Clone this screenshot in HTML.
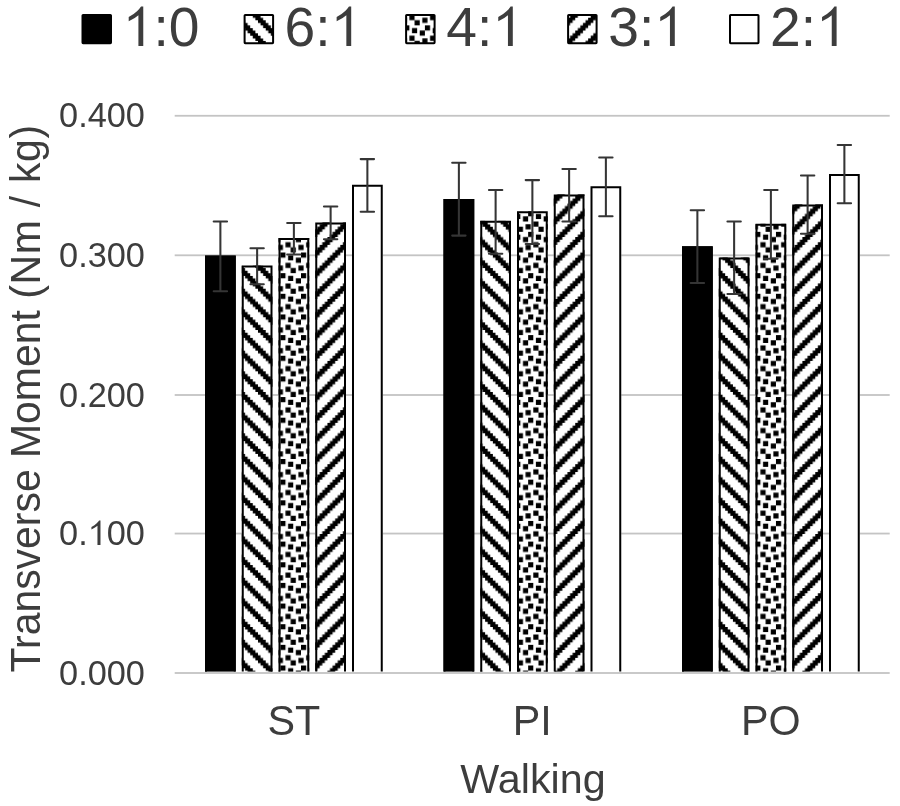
<!DOCTYPE html>
<html><head><meta charset="utf-8"><style>
html,body{margin:0;padding:0;background:#fff;}
svg{display:block;font-family:"Liberation Sans",sans-serif;will-change:transform;}
</style></head><body>
<svg width="900" height="806" viewBox="0 0 900 806">
<defs><pattern id="pDown" patternUnits="userSpaceOnUse" width="8" height="8" patternTransform="translate(10.17 -0.37) scale(2.58125)"><rect width="8" height="8" fill="#fff"/><path d="M0 0h1v1h-1zM1 0h1v1h-1zM2 0h1v1h-1zM1 1h1v1h-1zM2 1h1v1h-1zM3 1h1v1h-1zM2 2h1v1h-1zM3 2h1v1h-1zM4 2h1v1h-1zM3 3h1v1h-1zM4 3h1v1h-1zM5 3h1v1h-1zM4 4h1v1h-1zM5 4h1v1h-1zM6 4h1v1h-1zM5 5h1v1h-1zM6 5h1v1h-1zM7 5h1v1h-1zM6 6h1v1h-1zM7 6h1v1h-1zM0 6h1v1h-1zM7 7h1v1h-1zM0 7h1v1h-1zM1 7h1v1h-1z" fill="#000"/></pattern><pattern id="pUp" patternUnits="userSpaceOnUse" width="8" height="8" patternTransform="translate(17.69 9.88) scale(2.58125)"><rect width="8" height="8" fill="#fff"/><path d="M0 0h1v1h-1zM1 0h1v1h-1zM2 0h1v1h-1zM7 1h1v1h-1zM0 1h1v1h-1zM1 1h1v1h-1zM6 2h1v1h-1zM7 2h1v1h-1zM0 2h1v1h-1zM5 3h1v1h-1zM6 3h1v1h-1zM7 3h1v1h-1zM4 4h1v1h-1zM5 4h1v1h-1zM6 4h1v1h-1zM3 5h1v1h-1zM4 5h1v1h-1zM5 5h1v1h-1zM2 6h1v1h-1zM3 6h1v1h-1zM4 6h1v1h-1zM1 7h1v1h-1zM2 7h1v1h-1zM3 7h1v1h-1z" fill="#000"/></pattern><pattern id="pConf" patternUnits="userSpaceOnUse" width="8" height="8" patternTransform="translate(11.9 4.7) scale(2.58125)"><rect width="8" height="8" fill="#fff"/><path d="M0.000 0.000h2.0v2.0h-2.0zM3.000 1.000h2.0v2.0h-2.0zM6.000 2.000h2.0v2.0h-2.0zM2.000 4.000h2.0v2.0h-2.0zM-1.000 5.000h2.0v2.0h-2.0zM7.000 5.000h2.0v2.0h-2.0zM4.000 6.000h2.0v2.0h-2.0z" fill="#000"/></pattern></defs>
<rect x="174.7" y="114.87" width="715" height="1.8" fill="#c4c4c4"/>
<rect x="174.7" y="254.40" width="715" height="1.8" fill="#c4c4c4"/>
<rect x="174.7" y="394.10" width="715" height="1.8" fill="#c4c4c4"/>
<rect x="174.7" y="532.65" width="715" height="1.8" fill="#c4c4c4"/>
<rect x="205.00" y="255.60" width="30.75" height="416.00" fill="#000"/>
<path d="M206.00 671.6V256.60H234.75V671.6" fill="none" stroke="#000" stroke-width="2"/>
<rect x="241.75" y="265.50" width="30.75" height="406.10" fill="url(#pDown)"/>
<path d="M242.75 671.6V266.50H271.50V671.6" fill="none" stroke="#000" stroke-width="2"/>
<rect x="278.50" y="238.10" width="30.75" height="433.50" fill="url(#pConf)"/>
<path d="M279.50 671.6V239.10H308.25V671.6" fill="none" stroke="#000" stroke-width="2"/>
<rect x="315.25" y="222.40" width="30.75" height="449.20" fill="url(#pUp)"/>
<path d="M316.25 671.6V223.40H345.00V671.6" fill="none" stroke="#000" stroke-width="2"/>
<rect x="352.00" y="184.75" width="30.75" height="486.85" fill="#fff"/>
<path d="M353.00 671.6V185.75H381.75V671.6" fill="none" stroke="#000" stroke-width="2"/>
<rect x="443.50" y="199.00" width="30.75" height="472.60" fill="#000"/>
<path d="M444.50 671.6V200.00H473.25V671.6" fill="none" stroke="#000" stroke-width="2"/>
<rect x="480.25" y="220.85" width="30.75" height="450.75" fill="url(#pDown)"/>
<path d="M481.25 671.6V221.85H510.00V671.6" fill="none" stroke="#000" stroke-width="2"/>
<rect x="517.00" y="211.25" width="30.75" height="460.35" fill="url(#pConf)"/>
<path d="M518.00 671.6V212.25H546.75V671.6" fill="none" stroke="#000" stroke-width="2"/>
<rect x="553.75" y="194.40" width="30.75" height="477.20" fill="url(#pUp)"/>
<path d="M554.75 671.6V195.40H583.50V671.6" fill="none" stroke="#000" stroke-width="2"/>
<rect x="590.50" y="186.30" width="30.75" height="485.30" fill="#fff"/>
<path d="M591.50 671.6V187.30H620.25V671.6" fill="none" stroke="#000" stroke-width="2"/>
<rect x="682.00" y="246.30" width="30.75" height="425.30" fill="#000"/>
<path d="M683.00 671.6V247.30H711.75V671.6" fill="none" stroke="#000" stroke-width="2"/>
<rect x="718.75" y="257.40" width="30.75" height="414.20" fill="url(#pDown)"/>
<path d="M719.75 671.6V258.40H748.50V671.6" fill="none" stroke="#000" stroke-width="2"/>
<rect x="755.50" y="223.80" width="30.75" height="447.80" fill="url(#pConf)"/>
<path d="M756.50 671.6V224.80H785.25V671.6" fill="none" stroke="#000" stroke-width="2"/>
<rect x="792.25" y="204.40" width="30.75" height="467.20" fill="url(#pUp)"/>
<path d="M793.25 671.6V205.40H822.00V671.6" fill="none" stroke="#000" stroke-width="2"/>
<rect x="829.00" y="173.90" width="30.75" height="497.70" fill="#fff"/>
<path d="M830.00 671.6V174.90H858.75V671.6" fill="none" stroke="#000" stroke-width="2"/>
<rect x="174.7" y="672.10" width="715" height="1.8" fill="#c4c4c4"/>
<path d="M220.38 221.40V291.20M213.68 221.40H227.07M213.68 291.20H227.07" stroke="#353535" stroke-width="2.05" stroke-linecap="round" fill="none"/>
<path d="M257.12 248.30V284.20M250.43 248.30H263.82M250.43 284.20H263.82" stroke="#353535" stroke-width="2.05" stroke-linecap="round" fill="none"/>
<path d="M293.88 223.00V254.50M287.18 223.00H300.57M287.18 254.50H300.57" stroke="#353535" stroke-width="2.05" stroke-linecap="round" fill="none"/>
<path d="M330.62 206.40V239.20M323.93 206.40H337.32M323.93 239.20H337.32" stroke="#353535" stroke-width="2.05" stroke-linecap="round" fill="none"/>
<path d="M367.38 159.10V211.70M360.68 159.10H374.07M360.68 211.70H374.07" stroke="#353535" stroke-width="2.05" stroke-linecap="round" fill="none"/>
<path d="M458.88 162.80V235.60M452.18 162.80H465.57M452.18 235.60H465.57" stroke="#353535" stroke-width="2.05" stroke-linecap="round" fill="none"/>
<path d="M495.62 190.00V253.70M488.93 190.00H502.32M488.93 253.70H502.32" stroke="#353535" stroke-width="2.05" stroke-linecap="round" fill="none"/>
<path d="M532.38 180.10V243.90M525.67 180.10H539.08M525.67 243.90H539.08" stroke="#353535" stroke-width="2.05" stroke-linecap="round" fill="none"/>
<path d="M569.12 169.00V221.50M562.42 169.00H575.83M562.42 221.50H575.83" stroke="#353535" stroke-width="2.05" stroke-linecap="round" fill="none"/>
<path d="M605.88 157.50V216.30M599.17 157.50H612.58M599.17 216.30H612.58" stroke="#353535" stroke-width="2.05" stroke-linecap="round" fill="none"/>
<path d="M697.38 210.20V282.90M690.67 210.20H704.08M690.67 282.90H704.08" stroke="#353535" stroke-width="2.05" stroke-linecap="round" fill="none"/>
<path d="M734.12 221.50V293.90M727.42 221.50H740.83M727.42 293.90H740.83" stroke="#353535" stroke-width="2.05" stroke-linecap="round" fill="none"/>
<path d="M770.88 190.00V258.70M764.17 190.00H777.58M764.17 258.70H777.58" stroke="#353535" stroke-width="2.05" stroke-linecap="round" fill="none"/>
<path d="M807.62 175.40V233.80M800.92 175.40H814.33M800.92 233.80H814.33" stroke="#353535" stroke-width="2.05" stroke-linecap="round" fill="none"/>
<path d="M844.38 144.90V203.20M837.67 144.90H851.08M837.67 203.20H851.08" stroke="#353535" stroke-width="2.05" stroke-linecap="round" fill="none"/>
<text transform="translate(59.09 127.27) scale(1 1.03)" text-anchor="start" font-size="34.3" fill="#3d3d3d">0.400</text>
<text transform="translate(59.09 266.80) scale(1 1.03)" text-anchor="start" font-size="34.3" fill="#3d3d3d">0.300</text>
<text transform="translate(59.09 406.50) scale(1 1.03)" text-anchor="start" font-size="34.3" fill="#3d3d3d">0.200</text>
<text transform="translate(59.09 545.05) scale(1 1.03)" text-anchor="start" font-size="34.3" fill="#3d3d3d">0.</text>
<path transform="translate(87.70 545.05) scale(0.01675 -0.01675)" d="M763 0L583 0L583 1147Q470 1040 223 925L223 1080Q420 1180 540 1300Q640 1400 681 1466L763 1466Z" fill="#3d3d3d"/>
<text transform="translate(106.77 545.05) scale(1 1.03)" text-anchor="start" font-size="34.3" fill="#3d3d3d">00</text>
<text transform="translate(59.09 684.50) scale(1 1.03)" text-anchor="start" font-size="34.3" fill="#3d3d3d">0.000</text>
<text transform="translate(293.94 735.00) scale(1 1.02)" text-anchor="middle" font-size="41.3" fill="#3d3d3d">ST</text>
<text transform="translate(532.30 735.00) scale(1 1.02)" text-anchor="middle" font-size="41.3" fill="#3d3d3d">PI</text>
<text transform="translate(770.80 735.00) scale(1 1.02)" text-anchor="middle" font-size="41.3" fill="#3d3d3d">PO</text>
<text transform="translate(533.00 792.50) scale(1 1.0)" text-anchor="middle" font-size="41.3" fill="#3d3d3d">Walking</text>
<text transform="translate(40.1 672.42) rotate(-90) scale(1 1.02)" font-size="40.91" fill="#3d3d3d">Transverse Moment</text>
<text transform="translate(40.1 298.84) rotate(-90) scale(1 1.02)" font-size="40.91" letter-spacing="0.74" fill="#3d3d3d">(Nm / kg)</text>
<rect x="82.5" y="15" width="28.5" height="28.2" fill="#000" stroke="#000" stroke-width="2" rx="0.6"/>
<path transform="translate(122.70 46.10) scale(0.02695 -0.02695)" d="M763 0L583 0L583 1147Q470 1040 223 925L223 1080Q420 1180 540 1300Q640 1400 681 1466L763 1466Z" fill="#3d3d3d"/>
<text transform="translate(153.39 46.10) scale(1 1.02)" text-anchor="start" font-size="55.2" fill="#3d3d3d">:0</text>
<rect x="244.6" y="15" width="28.5" height="28.2" fill="url(#pDown)" stroke="#000" stroke-width="2" rx="0.6"/>
<text transform="translate(284.60 46.10) scale(1 1.02)" text-anchor="start" font-size="55.2" fill="#3d3d3d">6:</text>
<path transform="translate(330.64 46.10) scale(0.02695 -0.02695)" d="M763 0L583 0L583 1147Q470 1040 223 925L223 1080Q420 1180 540 1300Q640 1400 681 1466L763 1466Z" fill="#3d3d3d"/>
<rect x="406.1" y="15" width="28.5" height="28.2" fill="url(#pConf)" stroke="#000" stroke-width="2" rx="0.6"/>
<text transform="translate(446.20 46.10) scale(1 1.02)" text-anchor="start" font-size="55.2" fill="#3d3d3d">4:</text>
<path transform="translate(492.24 46.10) scale(0.02695 -0.02695)" d="M763 0L583 0L583 1147Q470 1040 223 925L223 1080Q420 1180 540 1300Q640 1400 681 1466L763 1466Z" fill="#3d3d3d"/>
<rect x="568.1" y="15" width="28.5" height="28.2" fill="url(#pUp)" stroke="#000" stroke-width="2" rx="0.6"/>
<text transform="translate(608.20 46.10) scale(1 1.02)" text-anchor="start" font-size="55.2" fill="#3d3d3d">3:</text>
<path transform="translate(654.24 46.10) scale(0.02695 -0.02695)" d="M763 0L583 0L583 1147Q470 1040 223 925L223 1080Q420 1180 540 1300Q640 1400 681 1466L763 1466Z" fill="#3d3d3d"/>
<rect x="730" y="15" width="28.5" height="28.2" fill="#fff" stroke="#000" stroke-width="2" rx="0.6"/>
<text transform="translate(770.00 46.10) scale(1 1.02)" text-anchor="start" font-size="55.2" fill="#3d3d3d">2:</text>
<path transform="translate(816.04 46.10) scale(0.02695 -0.02695)" d="M763 0L583 0L583 1147Q470 1040 223 925L223 1080Q420 1180 540 1300Q640 1400 681 1466L763 1466Z" fill="#3d3d3d"/>
</svg></body></html>
